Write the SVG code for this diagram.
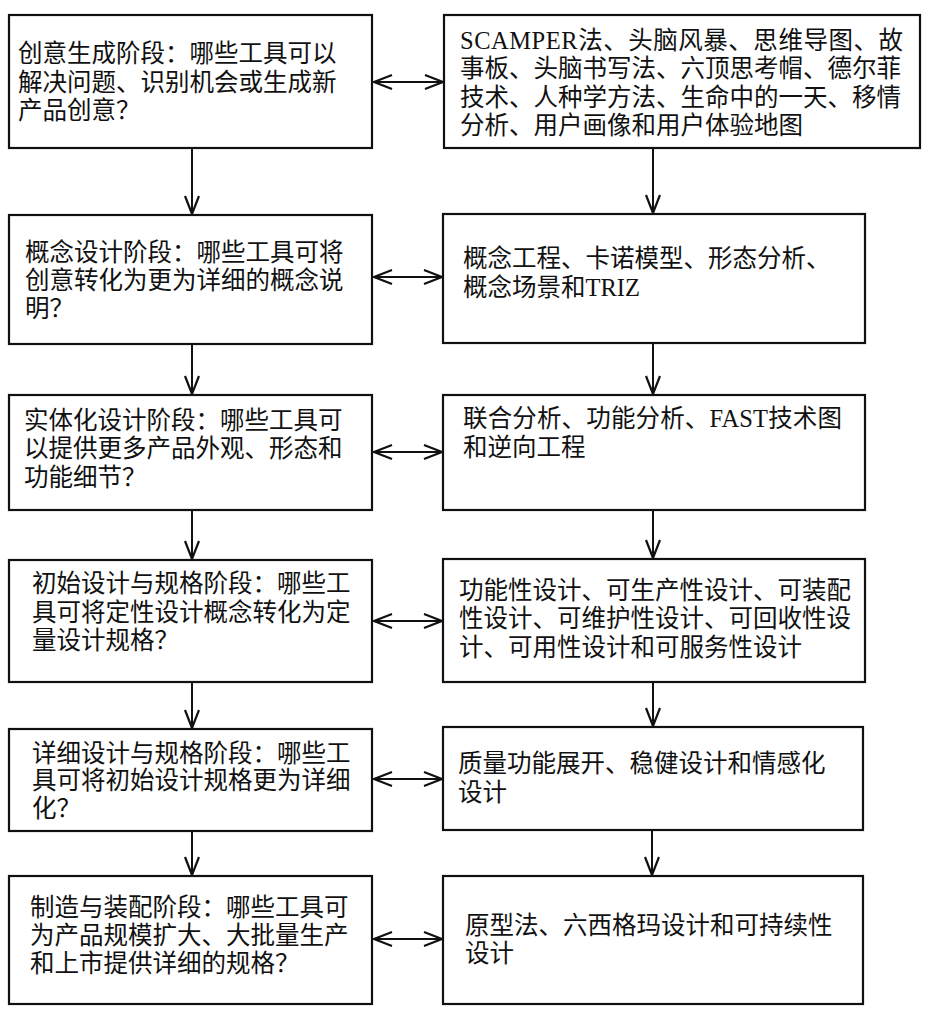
<svg xmlns="http://www.w3.org/2000/svg" width="928" height="1017" viewBox="0 0 928 1017">
<style>
.box{fill:#fff;stroke:#111;stroke-width:2.2}
.t{font-family:"Liberation Serif","Noto Sans CJK SC",serif;font-size:24.5px;fill:#111}
.c{fill:none;stroke:#111;stroke-width:2}
</style>
<defs>
<marker id="ah" markerUnits="userSpaceOnUse" markerWidth="22" markerHeight="18" viewBox="0 0 22 18" refX="19" refY="8" orient="auto-start-reverse">
<path d="M1,1 L19,8 L1,15" fill="none" stroke="#111" stroke-width="2.2"/>
</marker>
</defs>
<rect width="928" height="1017" fill="#fff"/>
<g id="connectors">
<path class="c" d="M192,148 V214" marker-end="url(#ah)"/>
<path class="c" d="M192,344 V394" marker-end="url(#ah)"/>
<path class="c" d="M192,510 V559" marker-end="url(#ah)"/>
<path class="c" d="M192,682 V728" marker-end="url(#ah)"/>
<path class="c" d="M192,831 V875" marker-end="url(#ah)"/>
<path class="c" d="M653,148 V213" marker-end="url(#ah)"/>
<path class="c" d="M653,343 V394" marker-end="url(#ah)"/>
<path class="c" d="M653,510 V558" marker-end="url(#ah)"/>
<path class="c" d="M653,682 V726" marker-end="url(#ah)"/>
<path class="c" d="M652,830 V875" marker-end="url(#ah)"/>
<path class="c" d="M374,82 H443" marker-start="url(#ah)" marker-end="url(#ah)"/>
<path class="c" d="M374,277 H442" marker-start="url(#ah)" marker-end="url(#ah)"/>
<path class="c" d="M374,452 H442" marker-start="url(#ah)" marker-end="url(#ah)"/>
<path class="c" d="M374,621 H442" marker-start="url(#ah)" marker-end="url(#ah)"/>
<path class="c" d="M374,779 H442" marker-start="url(#ah)" marker-end="url(#ah)"/>
<path class="c" d="M374,939 H442" marker-start="url(#ah)" marker-end="url(#ah)"/>
</g>
<g id="L1"><rect class="box" x="9" y="15" width="363" height="133"/>
<text class="t"><tspan x="18" y="62">创意生成阶段：哪些工具可以</tspan><tspan x="18" y="91">解决问题、识别机会或生成新</tspan><tspan x="18" y="119">产品创意？</tspan></text></g>
<g id="R1"><rect class="box" x="444" y="15" width="476" height="133"/>
<text class="t"><tspan x="460" y="49" textLength="443" lengthAdjust="spacing">SCAMPER法、头脑风暴、思维导图、故</tspan><tspan x="460" y="77">事板、头脑书写法、六顶思考帽、德尔菲</tspan><tspan x="460" y="106">技术、人种学方法、生命中的一天、移情</tspan><tspan x="460" y="134">分析、用户画像和用户体验地图</tspan></text></g>
<g id="L2"><rect class="box" x="9" y="215" width="363" height="129"/>
<text class="t"><tspan x="25" y="261">概念设计阶段：哪些工具可将</tspan><tspan x="25" y="289">创意转化为更为详细的概念说</tspan><tspan x="25" y="317">明？</tspan></text></g>
<g id="R2"><rect class="box" x="443" y="214" width="422" height="129"/>
<text class="t"><tspan x="463" y="267">概念工程、卡诺模型、形态分析、</tspan><tspan x="463" y="296">概念场景和TRIZ</tspan></text></g>
<g id="L3"><rect class="box" x="9" y="395" width="363" height="115"/>
<text class="t"><tspan x="24" y="429">实体化设计阶段：哪些工具可</tspan><tspan x="24" y="457">以提供更多产品外观、形态和</tspan><tspan x="24" y="486">功能细节？</tspan></text></g>
<g id="R3"><rect class="box" x="443" y="395" width="422" height="115"/>
<text class="t"><tspan x="463" y="427" textLength="379" lengthAdjust="spacing">联合分析、功能分析、FAST技术图</tspan><tspan x="463" y="456">和逆向工程</tspan></text></g>
<g id="L4"><rect class="box" x="9" y="560" width="363" height="122"/>
<text class="t"><tspan x="32" y="592">初始设计与规格阶段：哪些工</tspan><tspan x="32" y="621">具可将定性设计概念转化为定</tspan><tspan x="32" y="649">量设计规格？</tspan></text></g>
<g id="R4"><rect class="box" x="443" y="559" width="422" height="123"/>
<text class="t"><tspan x="459" y="599">功能性设计、可生产性设计、可装配</tspan><tspan x="459" y="627">性设计、可维护性设计、可回收性设</tspan><tspan x="459" y="656">计、可用性设计和可服务性设计</tspan></text></g>
<g id="L5"><rect class="box" x="9" y="729" width="363" height="102"/>
<text class="t"><tspan x="32" y="762">详细设计与规格阶段：哪些工</tspan><tspan x="32" y="789">具可将初始设计规格更为详细</tspan><tspan x="32" y="817">化？</tspan></text></g>
<g id="R5"><rect class="box" x="443" y="727" width="420" height="103"/>
<text class="t"><tspan x="458" y="772">质量功能展开、稳健设计和情感化</tspan><tspan x="458" y="801">设计</tspan></text></g>
<g id="L6"><rect class="box" x="9" y="876" width="363" height="128"/>
<text class="t"><tspan x="30" y="916">制造与装配阶段：哪些工具可</tspan><tspan x="30" y="944">为产品规模扩大、大批量生产</tspan><tspan x="30" y="972">和上市提供详细的规格？</tspan></text></g>
<g id="R6"><rect class="box" x="443" y="876" width="420" height="128"/>
<text class="t"><tspan x="465" y="934">原型法、六西格玛设计和可持续性</tspan><tspan x="465" y="962">设计</tspan></text></g>
</svg>
